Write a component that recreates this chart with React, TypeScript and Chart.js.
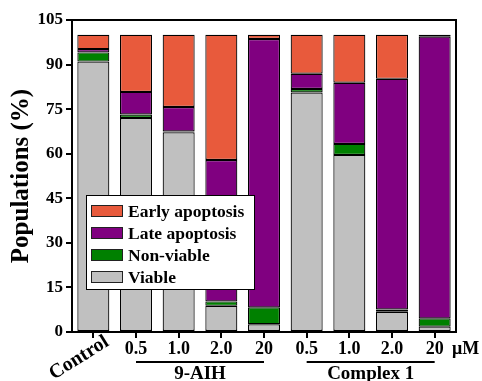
import React, { useEffect, useRef } from "react";
import { Chart, registerables } from "chart.js";

Chart.register(...registerables);

const categories = ["Control", "0.5", "1.0", "2.0", "20", "0.5", "1.0", "2.0", "20"];
const viable = [91, 72, 67.2, 8.8, 2.6, 80.6, 59.6, 6.8, 1.8];
const nonViable = [3.1, 1.2, 0.3, 1.5, 5.7, 1.2, 3.7, 0.8, 2.8];
const lateApoptosis = [1.1, 7.6, 8.2, 47.6, 90.3, 5.1, 20.6, 77.6, 94.8];
const earlyApoptosis = [4.8, 19.2, 24.3, 42.1, 1.4, 13.1, 16.1, 14.8, 0.6];
const yTicks = [0, 15, 30, 45, 60, 75, 90, 105];
const groups = [
  { label: "9-AIH", from: 1, to: 4 },
  { label: "Complex 1", from: 5, to: 8 },
];
const unitLabel = "μM";

const COLORS = {
  early: "#E85A3C",
  late: "#800080",
  nonViable: "#008000",
  viable: "#C0C0C0",
};

const FONT = "'Liberation Serif', 'Times New Roman', serif";

const legendItems = [
  { label: "Early apoptosis", color: COLORS.early },
  { label: "Late apoptosis", color: COLORS.late },
  { label: "Non-viable", color: COLORS.nonViable },
  { label: "Viable", color: COLORS.viable },
];

const decorPlugin = {
  id: "decor",
  afterDraw(chart: any) {
    const { ctx, chartArea } = chart;
    const x = chart.scales.x;
    ctx.save();
    // frame top/right
    ctx.strokeStyle = "#000";
    ctx.lineWidth = 2;
    ctx.beginPath();
    ctx.moveTo(chartArea.left, chartArea.top);
    ctx.lineTo(chartArea.right, chartArea.top);
    ctx.lineTo(chartArea.right, chartArea.bottom);
    ctx.stroke();

    // legend
    const lx = 86, ly = 195, lw = 168, lh = 94;
    ctx.fillStyle = "#fff";
    ctx.fillRect(lx, ly, lw, lh);
    ctx.lineWidth = 1;
    ctx.strokeStyle = "#000";
    ctx.strokeRect(lx + 0.5, ly + 0.5, lw, lh);
    ctx.font = `bold 17.5px ${FONT}`;
    ctx.textBaseline = "middle";
    ctx.textAlign = "left";
    legendItems.forEach((it, i) => {
      const cy = 211 + i * 22;
      ctx.fillStyle = it.color;
      ctx.fillRect(91, cy - 6, 32, 12);
      ctx.strokeStyle = "#222";
      ctx.strokeRect(91.5, cy - 5.5, 31, 11);
      ctx.fillStyle = "#000";
      ctx.fillText(it.label, 128, cy + 1);
    });

    // rotated Control label
    ctx.save();
    ctx.translate(102, 332);
    ctx.rotate((-32 * Math.PI) / 180);
    ctx.font = `bold 20px ${FONT}`;
    ctx.textAlign = "right";
    ctx.textBaseline = "top";
    ctx.fillStyle = "#000";
    ctx.fillText(categories[0], 0, 0);
    ctx.restore();

    // group lines and labels
    ctx.font = `bold 19px ${FONT}`;
    ctx.textAlign = "center";
    ctx.textBaseline = "middle";
    groups.forEach((g) => {
      const x1 = x.getPixelForValue(g.from);
      const x2 = x.getPixelForValue(g.to);
      ctx.lineWidth = 2;
      ctx.strokeStyle = "#000";
      ctx.beginPath();
      ctx.moveTo(x1, 362);
      ctx.lineTo(x2, 362);
      ctx.stroke();
      ctx.fillStyle = "#000";
      ctx.fillText(g.label, (x1 + x2) / 2, 374);
    });

    // unit
    ctx.font = `bold 18px ${FONT}`;
    ctx.textAlign = "left";
    ctx.fillText(unitLabel, 452, 349);
    ctx.restore();
  },
};

export default function App() {
  const ref = useRef<HTMLCanvasElement | null>(null);
  useEffect(() => {
    if (!ref.current) return;
    const mk = (label: string, data: number[], color: string) => ({
      label,
      data,
      backgroundColor: color,
      borderColor: "#000",
      borderWidth: 1.2,
      borderSkipped: false,
      barPercentage: 0.75,
      categoryPercentage: 1,
    });
    const chart = new Chart(ref.current, {
      type: "bar",
      data: {
        labels: categories,
        datasets: [
          mk("Viable", viable, COLORS.viable),
          mk("Non-viable", nonViable, COLORS.nonViable),
          mk("Late apoptosis", lateApoptosis, COLORS.late),
          mk("Early apoptosis", earlyApoptosis, COLORS.early),
        ],
      },
      options: {
        animation: false,
        responsive: true,
        maintainAspectRatio: false,
        layout: { padding: { top: 20, right: 26, left: 0, bottom: 0 } },
        plugins: { legend: { display: false }, tooltip: { enabled: false } },
        scales: {
          x: {
            stacked: true,
            afterFit: (s: any) => {
              s.height = 49;
            },
            border: { display: true, color: "#000", width: 2 },
            grid: {
              display: true,
              drawOnChartArea: false,
              drawTicks: true,
              tickLength: 6,
              color: "#000",
              lineWidth: 2,
              offset: false,
            },
            ticks: {
              autoSkip: false,
              maxRotation: 0,
              minRotation: 0,
              padding: 1,
              color: "#000",
              font: { family: FONT, size: 18, weight: "bold" },
              callback: (_v: any, i: number) => (i === 0 ? "" : categories[i]),
            },
          },
          y: {
            stacked: true,
            min: 0,
            max: 105,
            afterFit: (s: any) => {
              s.width = 72;
            },
            afterBuildTicks: (s: any) => {
              s.ticks = yTicks.map((v) => ({ value: v }));
            },
            border: { display: true, color: "#000", width: 2 },
            grid: {
              display: true,
              drawOnChartArea: false,
              drawTicks: true,
              tickLength: 6,
              color: "#000",
              lineWidth: 2,
            },
            ticks: {
              padding: 3,
              color: "#000",
              font: { family: FONT, size: 17, weight: "bold" },
            },
            title: {
              display: true,
              text: "Populations (%)",
              color: "#000",
              font: { family: FONT, size: 25, weight: "bold" },
              padding: { top: 7, bottom: 0 },
            },
          },
        },
      },
      plugins: [decorPlugin],
    });
    return () => chart.destroy();
  }, []);
  return (
    <div style={{ position: "fixed", left: 0, top: 0, width: 482, height: 381, background: "#fff" }}>
      <canvas ref={ref} />
    </div>
  );
}
